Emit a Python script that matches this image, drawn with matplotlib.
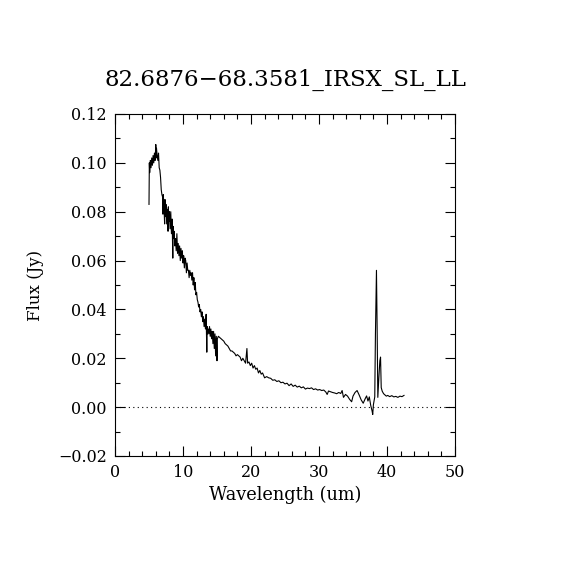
import matplotlib
matplotlib.use("Agg")
import matplotlib.pyplot as plt
from matplotlib.ticker import MultipleLocator

title = "82.6876\u221268.3581_IRSX_SL_LL"
xlabel = "Wavelength (um)"
ylabel = "Flux (Jy)"

wavelength = [
    5.0, 5.05, 5.1, 5.2, 5.3, 5.4, 5.5, 5.6, 5.7, 5.8, 5.9, 6.0, 6.05, 6.1, 6.2, 6.3, 6.4, 6.5, 6.6, 6.7,
    6.8, 6.9, 7.0, 7.05, 7.1, 7.2, 7.3, 7.35, 7.4, 7.5, 7.6, 7.7, 7.8, 7.85, 7.9, 8.0, 8.1, 8.2, 8.3, 8.4,
    8.5, 8.55, 8.6, 8.7, 8.8, 8.9, 9.0, 9.1, 9.2, 9.3, 9.4, 9.5, 9.6, 9.7, 9.8, 9.9, 10.0, 10.1, 10.2, 10.3,
    10.4, 10.5, 10.6, 10.7, 10.8, 10.9, 11.0, 11.1, 11.2, 11.3, 11.4, 11.5, 11.6, 11.7, 11.8, 11.9, 12.0, 12.1, 12.2, 12.3,
    12.4, 12.5, 12.6, 12.7, 12.8, 12.9, 13.0, 13.1, 13.2, 13.3, 13.4, 13.5, 13.55, 13.6, 13.7, 13.8, 13.9, 14.0, 14.1, 14.2,
    14.3, 14.4, 14.5, 14.6, 14.7, 14.8, 14.9, 15.0, 15.05, 15.2, 15.4, 15.6, 15.8, 16.0, 16.2, 16.4, 16.6, 16.8, 17.0, 17.2,
    17.4, 17.6, 17.8, 18.0, 18.2, 18.4, 18.6, 18.8, 19.0, 19.2, 19.4, 19.5, 19.7, 19.9, 20.1, 20.3, 20.5, 20.7, 20.9, 21.1,
    21.3, 21.5, 21.7, 22.0, 22.3, 22.6, 22.9, 23.2, 23.5, 23.8, 24.1, 24.4, 24.7, 25.0, 25.3, 25.6, 25.9, 26.2, 26.5, 26.8,
    27.1, 27.4, 27.7, 28.0, 28.3, 28.6, 28.9, 29.2, 29.5, 29.8, 30.1, 30.4, 30.7, 31.0, 31.2, 31.4, 31.7, 32.0, 32.3, 32.6,
    32.9, 33.2, 33.4, 33.6, 33.9, 34.2, 34.5, 34.8, 35.0, 35.3, 35.6, 35.9, 36.2, 36.5, 36.8, 37.0, 37.2, 37.4, 37.6, 37.8,
    37.9, 38.0, 38.2, 38.3, 38.45, 38.55, 38.65, 38.8, 38.95, 39.05, 39.15, 39.3, 39.5, 39.7, 39.9, 40.1, 40.4, 40.7, 41.0, 41.3,
    41.6, 41.9, 42.2, 42.5,
]
flux = [
    0.083, 0.100, 0.096, 0.101, 0.098, 0.102, 0.099, 0.103, 0.100, 0.104, 0.101, 0.1075, 0.102, 0.106, 0.103, 0.101, 0.104, 0.098, 0.097, 0.094,
    0.089, 0.087, 0.086, 0.079, 0.087, 0.082, 0.075, 0.085, 0.078, 0.083, 0.075, 0.081, 0.072, 0.082, 0.076, 0.080, 0.073, 0.080, 0.071, 0.077,
    0.061, 0.074, 0.069, 0.072, 0.066, 0.069, 0.064, 0.071, 0.063, 0.067, 0.062, 0.066, 0.060, 0.065, 0.061, 0.064, 0.059, 0.062, 0.057, 0.061,
    0.060, 0.055, 0.059, 0.056, 0.056, 0.053, 0.056, 0.054, 0.055, 0.052, 0.055, 0.050, 0.053, 0.048, 0.051, 0.046, 0.047, 0.044, 0.043, 0.041,
    0.042, 0.039, 0.040, 0.037, 0.039, 0.035, 0.037, 0.033, 0.036, 0.032, 0.038, 0.0225, 0.033, 0.030, 0.032, 0.030, 0.033, 0.029, 0.032, 0.028,
    0.031, 0.026, 0.031, 0.024, 0.030, 0.021, 0.029, 0.019, 0.028, 0.029, 0.0285, 0.028, 0.0275, 0.027, 0.026, 0.0255, 0.025, 0.024, 0.023, 0.023,
    0.0225, 0.022, 0.021, 0.0215, 0.021, 0.0205, 0.019, 0.020, 0.019, 0.018, 0.024, 0.018, 0.0185, 0.017, 0.018, 0.016, 0.017, 0.0155, 0.016, 0.014,
    0.015, 0.0135, 0.014, 0.012, 0.0125, 0.012, 0.0118, 0.011, 0.0112, 0.0105, 0.0108, 0.0100, 0.0102, 0.0095, 0.0098, 0.0088, 0.0095, 0.0085, 0.0090, 0.0082,
    0.0086, 0.0079, 0.0083, 0.0074, 0.0078, 0.0076, 0.0079, 0.0072, 0.0075, 0.0070, 0.0072, 0.0068, 0.0070, 0.0062, 0.0052, 0.0066, 0.0063, 0.0060, 0.0058, 0.0055,
    0.0060, 0.0056, 0.0068, 0.0040, 0.0052, 0.0045, 0.0032, 0.0022, 0.0045, 0.0060, 0.0068, 0.0050, 0.0030, 0.0016, 0.0035, 0.0046, 0.0025, 0.0042, 0.0008, -0.0015,
    -0.0030, 0.0010, 0.0042, 0.030, 0.056, 0.032, 0.004, 0.012, 0.019, 0.0205, 0.008, 0.0065, 0.0055, 0.0050, 0.0045, 0.0048, 0.0043, 0.0047, 0.0042, 0.0044,
    0.0040, 0.0045, 0.0043, 0.0048,
]

xlim = (0, 50)
ylim = (-0.02, 0.12)

plt.rcParams['font.family'] = ['DejaVu Serif']
fig = plt.figure(figsize=(5.7, 5.7), dpi=100)
ax = fig.add_axes([115/570, 1-456/570, 340/570, 342/570])

ax.plot(wavelength, flux, color='black', lw=0.8)
ax.axhline(0, color='black', lw=0.8, linestyle=(0, (1, 3)))

ax.set_xlim(*xlim)
ax.set_ylim(*ylim)
ax.xaxis.set_major_locator(MultipleLocator(10))
ax.xaxis.set_minor_locator(MultipleLocator(2))
ax.yaxis.set_major_locator(MultipleLocator(0.02))
ax.yaxis.set_minor_locator(MultipleLocator(0.01))
ax.yaxis.set_major_formatter(matplotlib.ticker.FuncFormatter(lambda v, p: f"{v:.2f}".replace('-', '\u2212')))
ax.tick_params(which='both', direction='in', top=True, right=True, labelsize=11.5, width=0.8)
ax.tick_params(which='major', length=7, pad=6)
ax.tick_params(which='minor', length=3.5)
for s in ax.spines.values():
    s.set_linewidth(0.8)

ax.set_title(title, fontsize=16.5, pad=20)
ax.set_xlabel(xlabel, fontsize=12.8, labelpad=3)
ax.set_ylabel(ylabel, fontsize=12, labelpad=10)

fig.savefig("out.png", dpi=100)
